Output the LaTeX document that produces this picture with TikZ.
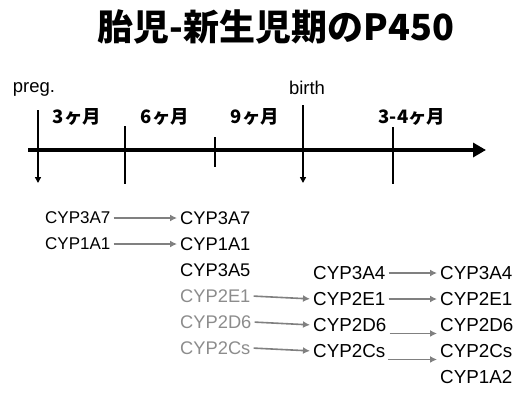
\documentclass[tikz,border=0pt]{standalone}
\usepackage{fontspec}
\setmainfont{Liberation Sans}
\newfontfamily\cjk{Noto Sans CJK JP}
\usetikzlibrary{arrows.meta}
\tikzset{
  axisline/.style={line width=4.5pt,-{Triangle[length=13pt,width=14pt]}},
  tickline/.style={line width=2pt},
  tickarrow/.style={line width=2pt,-{Triangle[length=6pt,width=6pt]}},
  cjklabel/.style={font=\cjk\bfseries\fontsize{18.5}{20}\selectfont,inner sep=0pt},
  latlabel/.style={font=\fontsize{18.5}{20}\selectfont,inner sep=0pt},
  cypL/.style={anchor=west,inner sep=1pt,font=\fontsize{17}{20}\selectfont},
  cypM/.style={anchor=west,inner sep=1pt,font=\fontsize{18.3}{20}\selectfont},
  cypR/.style={anchor=west,inner sep=1pt,font=\fontsize{18.8}{20}\selectfont},
  faded/.style={text=black!45},
  flow/.style={draw=black!50,line width=1.6pt,-{Latex[length=7pt,width=7pt]},shorten <=2pt,shorten >=2pt},
}
\begin{document}
\begin{tikzpicture}[x=1pt,y=-1pt]
\useasboundingbox (0,0) rectangle (520,394);
% title
\node[font=\cjk\bfseries\fontsize{36}{40}\selectfont,inner sep=0pt] (title) at (276,27) {胎児-新生児期のP450};
% axis
\coordinate (ax0) at (28,150);
\coordinate (ax1) at (486,150);
\draw[axisline] (ax0) -- (ax1);
% ticks
\coordinate (p0) at (38,110); \coordinate (p1) at (38,183);
\draw[tickarrow] (p0) -- (p1);
\coordinate (s0) at (125,126); \coordinate (s1) at (125,184);
\draw[tickline] (s0) -- (s1);
\coordinate (n0) at (215,137); \coordinate (n1) at (215,167);
\draw[tickline] (n0) -- (n1);
\coordinate (b0) at (303,105); \coordinate (b1) at (303,183);
\draw[tickarrow] (b0) -- (b1);
\coordinate (f0) at (393,127); \coordinate (f1) at (393,184);
\draw[tickline] (f0) -- (f1);
% time labels
\node[latlabel] (preg) at (34,89) {preg.};
\node[latlabel] (birth) at (307,88) {birth};
\node[cjklabel] (m3) at (77,117) {3ヶ月};
\node[cjklabel] (m6) at (165,117) {6ヶ月};
\node[cjklabel] (m9) at (255,117) {9ヶ月};
\node[cjklabel] (m34) at (412,117) {3-4ヶ月};
% column 1
\node[cypL] (a3A7) at (44,218) {CYP3A7};
\node[cypL] (a1A1) at (44,244) {CYP1A1};
% column 2
\node[cypM] (b3A7) at (179,218) {CYP3A7};
\node[cypM] (b1A1) at (179,244) {CYP1A1};
\node[cypM] (b3A5) at (179,270) {CYP3A5};
\node[cypM,faded] (g2E1) at (179,296) {CYP2E1};
\node[cypM,faded] (g2D6) at (179,322) {CYP2D6};
\node[cypM,faded] (g2Cs) at (179,348) {CYP2Cs};
% column 3
\node[cypR] (m3A4) at (312,273) {CYP3A4};
\node[cypR] (m2E1) at (312,299) {CYP2E1};
\node[cypR] (m2D6) at (312,325) {CYP2D6};
\node[cypR] (m2Cs) at (312,351) {CYP2Cs};
% column 4
\node[cypR] (r3A4) at (439,273) {CYP3A4};
\node[cypR] (r2E1) at (439,299) {CYP2E1};
\node[cypR] (r2D6) at (439,325) {CYP2D6};
\node[cypR] (r2Cs) at (439,351) {CYP2Cs};
\node[cypR] (r1A2) at (439,377) {CYP1A2};
% arrows
\draw[flow] (a3A7) -- (b3A7);
\draw[flow] (a1A1) -- (b1A1);
\draw[flow] (g2E1.east) -- (m2E1.west);
\draw[flow] (g2D6.east) -- (m2D6.west);
\draw[flow] (g2Cs.east) -- (m2Cs.west);
\draw[flow] (m3A4) -- (r3A4);
\draw[flow] (m2E1) -- (r2E1);
\draw[flow] ([yshift=-2pt]m2D6.base east) -- ([yshift=-2pt]r2D6.base west);
\draw[flow] ([yshift=-2pt]m2Cs.base east) -- ([yshift=-2pt]r2Cs.base west);
\end{tikzpicture}
\end{document}
